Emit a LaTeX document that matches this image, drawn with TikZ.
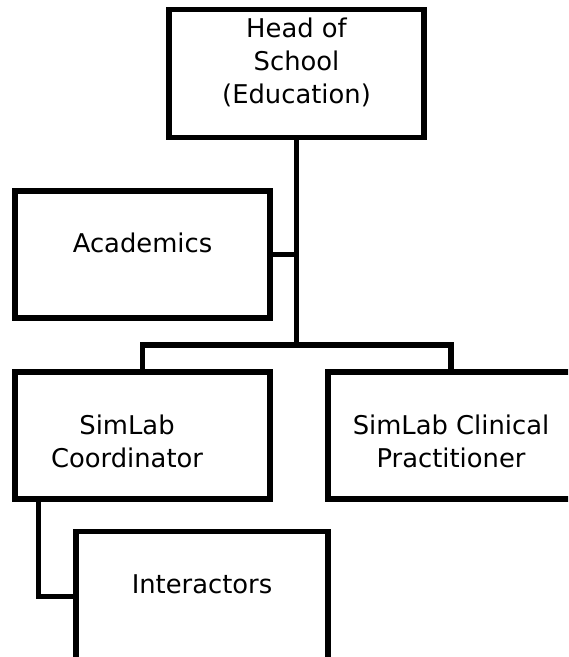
\documentclass[tikz,border=0pt]{standalone}
\usepackage{fontspec}
\setmainfont{DejaVu Sans}
\usetikzlibrary{calc}

\begin{document}
\begin{tikzpicture}[x=0.5pt,y=-0.5pt,
    box/.style={draw,line width=2.7pt,inner sep=0pt,minimum width=127.5pt,
        minimum height=63.5pt,align=center,text height=9.5pt,text depth=11pt,
        font=\fontsize{12.9pt}{16.5pt}\selectfont},
    twolines/.style={text height=42.5pt,text depth=11pt},
    link/.style={line width=2.7pt}]
   \clip (0,0) rectangle (568,657);

   \node[box,minimum height=64pt,text height=41.5pt] (head) at (296.5,73.5) {Head of\\School\\(Education)};
   \node[box] (acad) at (142.5,254.5) {Academics};
   \node[box,twolines] (coord) at (142.5,435.5) {SimLab\hspace*{15.5pt}\\Coordinator\hspace*{15.5pt}};
   \node[box,twolines,minimum width=123pt] (clin) at (451,435.5) {SimLab Clinical\\Practitioner};
   \node[box,minimum width=126pt,minimum height=65pt,text depth=13pt] (inter) at (202,596.5) {Interactors};

   \coordinate (bus) at (296.5,345);
   \draw[link] (head) -- (bus);
   \draw[link] (acad.east) -- (acad.east -| bus);
   \draw[link] (coord.north) |- (bus) -| (clin.north);
   \draw[link] ($(coord.south west)+(26,0)$) |- (inter.west);
\end{tikzpicture}
\end{document}
